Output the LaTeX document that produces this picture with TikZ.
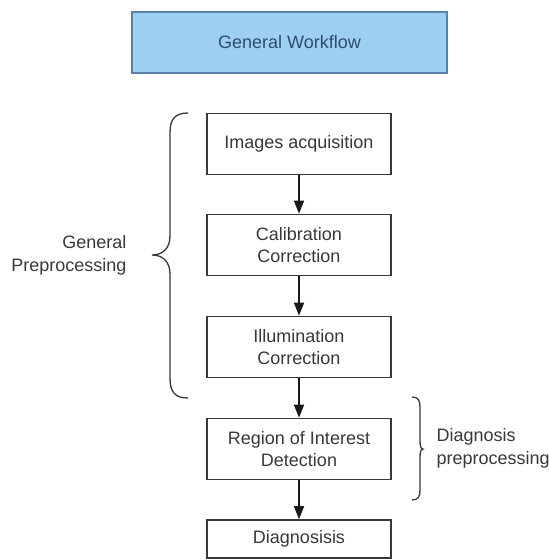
\documentclass[tikz,border=0pt]{standalone}
\usepackage{amsmath, amssymb, tikz}
\usepackage{xcolor}
\usepackage{fontspec}
\setmainfont{Liberation Sans}
\usetikzlibrary{arrows.meta}
\definecolor{wfblue}{HTML}{9DCFF2}
\definecolor{wfedge}{HTML}{5B82A6}
\definecolor{wftext}{HTML}{2E4D6B}
\definecolor{boxgray}{HTML}{383838}

\begin{document}
\begin{tikzpicture}[x=1pt, y=-1pt,
      box/.style={draw=boxgray, line width=1.6pt, minimum width=184pt, minimum height=61pt,
                  align=center, text=boxgray, font=\fontsize{18}{22}\selectfont},
      lbl/.style={text=boxgray, font=\fontsize{18}{23}\selectfont},
      arr/.style={draw=black!90, line width=1.6pt, -{Triangle[length=13pt,width=10pt]}},
      brc/.style={draw=boxgray, line width=1.3pt}]
         \useasboundingbox (0,0) rectangle (549,560);
         \node[box, draw=wfedge, fill=wfblue, text=wftext, minimum width=315pt] (T) at (289.5,42.5) {General Workflow};
         \node[box] (A) at (299,144) {Images acquisition};
         \node[box] (B) at (299,245) {Calibration\\Correction};
         \node[box] (C) at (299,347) {Illumination\\Correction};
         \node[box] (D) at (299,449) {Region of Interest\\Detection};
         \node[box, minimum height=38pt] (E) at (299,539) {Diagnosisis};
         \draw[arr] (A) -- (B);
         \draw[arr] (B) -- (C);
         \draw[arr] (C) -- (D);
         \draw[arr] (D) -- (E);
         \node[lbl, anchor=east, align=right] (L) at (130,255) {General\\Preprocessing};
         \node[lbl, anchor=west, align=left] (R) at (433,448) {Diagnosis\\preprocessing};
         \coordinate (L1) at (188,113);
         \coordinate (L2) at (152,255);
         \coordinate (L3) at (188,398);
         \coordinate (R1) at (412,397);
         \coordinate (R2) at (423,449);
         \coordinate (R3) at (412,500);
         \draw[brc] (L1) .. controls (175,113) and (170,119) .. (170,133) -- (170,236)
                    .. controls (170,249) and (162,255) .. (L2)
                    .. controls (162,255) and (170,261) .. (170,274) -- (170,378)
                    .. controls (170,392) and (175,398) .. (L3);
         \draw[brc] (R1) .. controls (418,397) and (420,400) .. (420,407) -- (420,441)
                    .. controls (420,446) and (421,449) .. (R2)
                    .. controls (421,449) and (420,452) .. (420,457) -- (420,490)
                    .. controls (420,497) and (418,500) .. (R3);
      \end{tikzpicture}
\end{document}
